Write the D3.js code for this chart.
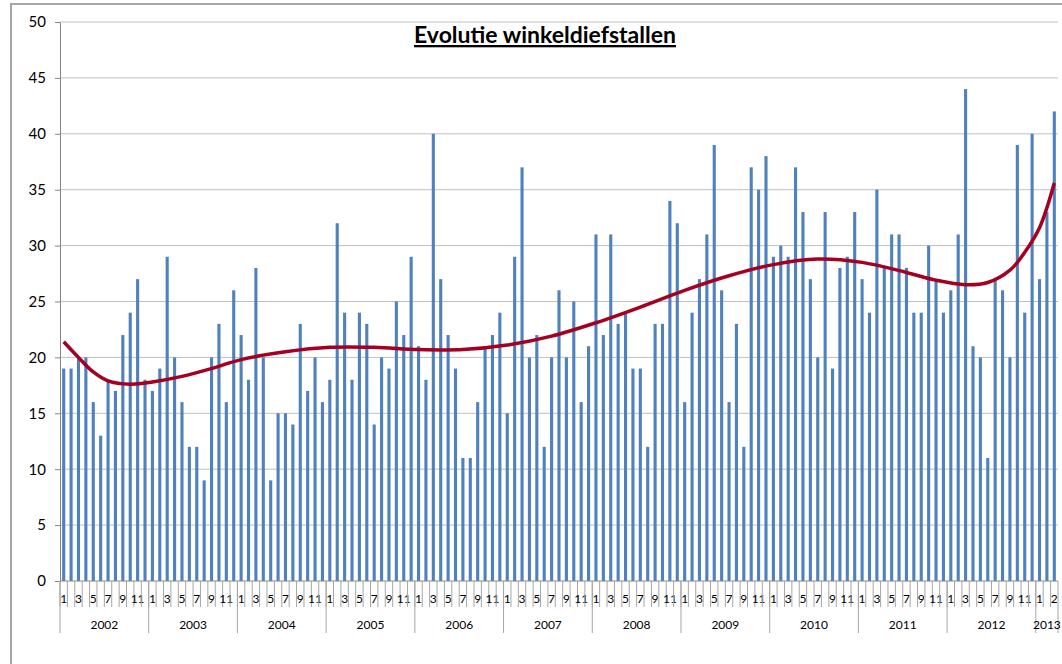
<!DOCTYPE html>
<html>
<head>
<meta charset="utf-8">
<script src="https://cdn.jsdelivr.net/npm/d3@7"></script>
<style>
  body { margin: 0; background: #fff; }
  text { font-family: Lato, "Liberation Sans", sans-serif; }
</style>
</head>
<body>
<script>
// monthly counts, one array per year
const v2002 = [19, 19, 20, 20, 16, 13, 18, 17, 22, 24, 27, 18];
const v2003 = [17, 19, 29, 20, 16, 12, 12, 9, 20, 23, 16, 26];
const v2004 = [22, 18, 28, 20, 9, 15, 15, 14, 23, 17, 20, 16];
const v2005 = [18, 32, 24, 18, 24, 23, 14, 20, 19, 25, 22, 29];
const v2006 = [21, 18, 40, 27, 22, 19, 11, 11, 16, 21, 22, 24];
const v2007 = [15, 29, 37, 20, 22, 12, 20, 26, 20, 25, 16, 21];
const v2008 = [31, 22, 31, 23, 24, 19, 19, 12, 23, 23, 34, 32];
const v2009 = [16, 24, 27, 31, 39, 26, 16, 23, 12, 37, 35, 38];
const v2010 = [29, 30, 29, 37, 33, 27, 20, 33, 19, 28, 29, 33];
const v2011 = [27, 24, 35, 28, 31, 31, 28, 24, 24, 30, 27, 24];
const v2012 = [26, 31, 44, 21, 20, 11, 27, 26, 20, 39, 24, 40];
const v2013 = [27, 33, 42];

const years = ["2002", "2003", "2004", "2005", "2006", "2007", "2008", "2009", "2010", "2011", "2012", "2013"];
const yearValues = [v2002, v2003, v2004, v2005, v2006, v2007, v2008, v2009, v2010, v2011, v2012, v2013];
const monthLabels = ["1", "2", "3", "4", "5", "6", "7", "8", "9", "10", "11", "12"];
const monthLabels2013 = ["1", "", "2"];
const yTicks = [0, 5, 10, 15, 20, 25, 30, 35, 40, 45, 50];

// trend line (category index, value)
const trendIdx = [0, 2, 4, 6, 9, 12, 16, 20, 24, 30, 36, 42, 48, 54, 60, 66, 72, 78, 84, 90, 96, 102, 108, 114, 118, 122, 125, 128, 130, 132, 134];
const trendVal = [21.4, 20.0, 18.7, 17.9, 17.6, 17.8, 18.3, 19.0, 19.8, 20.5, 20.9, 20.9, 20.7, 20.7, 21.1, 21.9, 23.1, 24.5, 26.0, 27.3, 28.3, 28.8, 28.5, 27.6, 26.9, 26.5, 26.7, 27.8, 29.4, 31.6, 35.6];

// flatten into categories
const data = [];
yearValues.forEach((vals, yi) => {
  vals.forEach((v, m) => {
    const lab = years[yi] === "2013" ? monthLabels2013[m] : monthLabels[m];
    data.push({ key: years[yi] + "-" + (m + 1), year: years[yi], month: lab, value: v });
  });
});

const W = 1062, H = 664;
const margin = { left: 60, right: 1058, top: 22, bottom: 581 };

const svg = d3.select("body").append("svg")
  .attr("width", W)
  .attr("height", H);

// chart border
svg.append("rect")
  .attr("x", 11).attr("y", 4)
  .attr("width", 1100).attr("height", 700)
  .attr("fill", "#fff")
  .attr("stroke", "#a6a6a6")
  .attr("stroke-width", 2);

const x = d3.scaleBand()
  .domain(data.map(d => d.key))
  .range([margin.left, margin.right])
  .paddingInner(0.58)
  .paddingOuter(0.29);

const y = d3.scaleLinear()
  .domain([0, 50])
  .range([margin.bottom, margin.top]);

const step = x.step();

// gridlines
svg.append("g")
  .selectAll("line")
  .data(yTicks.filter(t => t > 0))
  .enter().append("line")
    .attr("x1", margin.left).attr("x2", margin.right)
    .attr("y1", d => y(d)).attr("y2", d => y(d))
    .attr("stroke", "#c0c0c0")
    .attr("stroke-width", 1);

// y axis
const yAxis = svg.append("g")
  .attr("transform", `translate(${margin.left},0)`)
  .call(d3.axisLeft(y).tickValues(yTicks).tickSize(5).tickPadding(9));
yAxis.select(".domain").attr("stroke", "#868686");
yAxis.selectAll(".tick line").attr("stroke", "#868686");
yAxis.selectAll(".tick text")
  .attr("font-size", "15px")
  .attr("font-family", "Lato, 'Liberation Sans', sans-serif")
  .attr("fill", "#000");

// bars
svg.append("g")
  .selectAll("rect")
  .data(data)
  .enter().append("rect")
    .attr("x", d => x(d.key))
    .attr("y", d => y(d.value))
    .attr("width", x.bandwidth())
    .attr("height", d => y(0) - y(d.value))
    .attr("fill", "#4f81bd");

// trend line
const trend = trendIdx.map((i, k) => [x(data[i].key) + x.bandwidth() / 2, y(trendVal[k])]);
svg.append("path")
  .datum(trend)
  .attr("d", d3.line().curve(d3.curveCatmullRom.alpha(0.5)))
  .attr("fill", "none")
  .attr("stroke", "#a50021")
  .attr("stroke-width", 3.5);

// x axis baseline
svg.append("line")
  .attr("x1", margin.left).attr("x2", margin.right)
  .attr("y1", margin.bottom).attr("y2", margin.bottom)
  .attr("stroke", "#868686");

// month row: separators on every category
const xg = svg.append("g");
data.forEach((d, i) => {
  const x0 = x(d.key) - (step - x.bandwidth()) / 2;
  xg.append("line")
    .attr("x1", x0).attr("x2", x0)
    .attr("y1", margin.bottom).attr("y2", 607)
    .attr("stroke", "#a6a6a6");
  if (i % 2 === 0) {
    xg.append("text")
      .attr("x", x0 + step / 2)
      .attr("y", 603)
      .attr("text-anchor", "middle")
      .attr("font-size", "12px")
      .text(d.month);
  }
});
xg.append("line")
  .attr("x1", margin.right).attr("x2", margin.right)
  .attr("y1", margin.bottom).attr("y2", 633)
  .attr("stroke", "#a6a6a6");

// year row
years.forEach(yr => {
  const rows = data.filter(d => d.year === yr);
  const x0 = x(rows[0].key) - (step - x.bandwidth()) / 2;
  const x1 = x0 + rows.length * step;
  xg.append("line")
    .attr("x1", x0).attr("x2", x0)
    .attr("y1", margin.bottom).attr("y2", 633)
    .attr("stroke", "#a6a6a6");
  xg.append("text")
    .attr("x", (x0 + x1) / 2)
    .attr("y", 629)
    .attr("text-anchor", "middle")
    .attr("font-size", "12px")
    .text(yr);
});

// title
svg.append("text")
  .attr("x", 545)
  .attr("y", 43)
  .attr("text-anchor", "middle")
  .attr("font-size", "23px")
  .attr("font-weight", "bold")
  .attr("text-decoration", "underline")
  .text("Evolutie winkeldiefstallen");
</script>
</body>
</html>
